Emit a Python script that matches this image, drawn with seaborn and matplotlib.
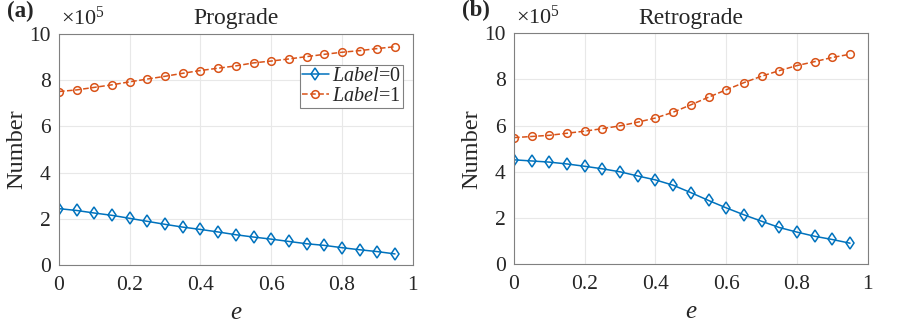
import matplotlib
matplotlib.use("Agg")
import matplotlib.pyplot as plt
import seaborn as sns
import pandas as pd

# eccentricity bins
e_vals = [0.00, 0.05, 0.10, 0.15, 0.20, 0.25, 0.30, 0.35, 0.40, 0.45,
          0.50, 0.55, 0.60, 0.65, 0.70, 0.75, 0.80, 0.85, 0.90, 0.95]

# counts (x 1e5)
pro_label0 = [2.44, 2.36, 2.25, 2.15, 2.02, 1.89, 1.76, 1.64, 1.54, 1.43,
              1.31, 1.21, 1.12, 1.02, 0.92, 0.85, 0.75, 0.66, 0.58, 0.48]
pro_label1 = [7.51, 7.58, 7.69, 7.80, 7.93, 8.05, 8.17, 8.30, 8.42, 8.52,
              8.62, 8.75, 8.83, 8.92, 9.02, 9.12, 9.21, 9.28, 9.37, 9.45]
retro_label0 = [4.52, 4.47, 4.42, 4.34, 4.24, 4.13, 4.00, 3.82, 3.65, 3.42,
                3.10, 2.76, 2.44, 2.14, 1.86, 1.59, 1.39, 1.21, 1.07, 0.91]
retro_label1 = [5.48, 5.53, 5.58, 5.67, 5.76, 5.87, 5.99, 6.15, 6.33, 6.58,
                6.90, 7.23, 7.55, 7.86, 8.14, 8.38, 8.60, 8.77, 8.95, 9.09]

panel_titles = ["Prograde", "Retrograde"]
panel_tags = ["(a)", "(b)"]
legend_labels = [r"$\mathit{Label}$=0", r"$\mathit{Label}$=1"]
x_ticks = [0, 0.2, 0.4, 0.6, 0.8, 1]
x_ticklabels = ["0", "0.2", "0.4", "0.6", "0.8", "1"]
y_ticks = [0, 2, 4, 6, 8, 10]
y_ticklabels = ["0", "2", "4", "6", "8", "10"]
scale = 1e5

BLUE = "#0072BD"
ORANGE = "#D95319"

sns.set_style("whitegrid")
plt.rcParams["font.family"] = ["Liberation Serif", "DejaVu Serif"]
plt.rcParams["mathtext.fontset"] = "custom"
plt.rcParams["mathtext.rm"] = "Liberation Serif"
plt.rcParams["mathtext.it"] = "Liberation Serif:italic"

fig = plt.figure(figsize=(9.1, 3.27), dpi=100)
ax_a = fig.add_axes([0.0648, 0.1896, 0.3887, 0.7064])
ax_b = fig.add_axes([0.5648, 0.1920, 0.3887, 0.7064])

data = [(pro_label0, pro_label1), (retro_label0, retro_label1)]

for i, ax in enumerate([ax_a, ax_b]):
    y0 = [v * scale for v in data[i][0]]
    y1 = [v * scale for v in data[i][1]]
    sns.lineplot(ax=ax, x=e_vals, y=y0, color=BLUE, lw=1.1, marker="d",
                 markersize=6, markerfacecolor="none", markeredgecolor=BLUE,
                 markeredgewidth=1.1, label=legend_labels[0])
    sns.lineplot(ax=ax, x=e_vals, y=y1, color=ORANGE, lw=1.1, marker="o",
                 markersize=5.5, markerfacecolor="none", markeredgecolor=ORANGE,
                 markeredgewidth=1.1, linestyle="--", label=legend_labels[1])

    ax.set_xlim(0, 1)
    ax.set_ylim(0, 10 * scale)
    ax.set_xticks(x_ticks)
    ax.set_xticklabels(x_ticklabels, fontfamily="Liberation Serif")
    ax.set_yticks([t * scale for t in y_ticks])
    ax.set_yticklabels(y_ticklabels, fontfamily="Liberation Serif")
    ax.tick_params(labelsize=15.5, direction="in", length=3, color="#808080")
    ax.tick_params(axis="x", pad=8)
    ax.tick_params(axis="y", pad=6)
    ax.grid(True, color="#e8e8e8", lw=0.8)
    for sp in ax.spines.values():
        sp.set_color("#808080")
        sp.set_linewidth(0.8)
    ax.set_xlabel("$e$", fontsize=18, labelpad=5)
    ax.set_ylabel("Number", fontsize=17.5, labelpad=1)
    ax.set_title(panel_titles[i], fontsize=17, pad=7)
    ax.text(-0.148, 1.145, panel_tags[i], transform=ax.transAxes,
            fontsize=16.5, fontweight="bold", va="top", ha="left")
    ax.text(0.005, 1.02, r"$\times$10$^{5}$", transform=ax.transAxes,
            fontsize=16, va="bottom", ha="left")

    if i == 0:
        leg = ax.legend(loc="upper right", bbox_to_anchor=(0.972, 0.866),
                        fontsize=14.5, frameon=True, fancybox=False,
                        edgecolor="#808080", framealpha=1,
                        handlelength=1.35, handletextpad=0.15,
                        borderpad=0.1, labelspacing=0.02, borderaxespad=0)
        leg.get_frame().set_linewidth(0.8)
    else:
        ax.get_legend().remove()

fig.savefig("out.png", dpi=100)
